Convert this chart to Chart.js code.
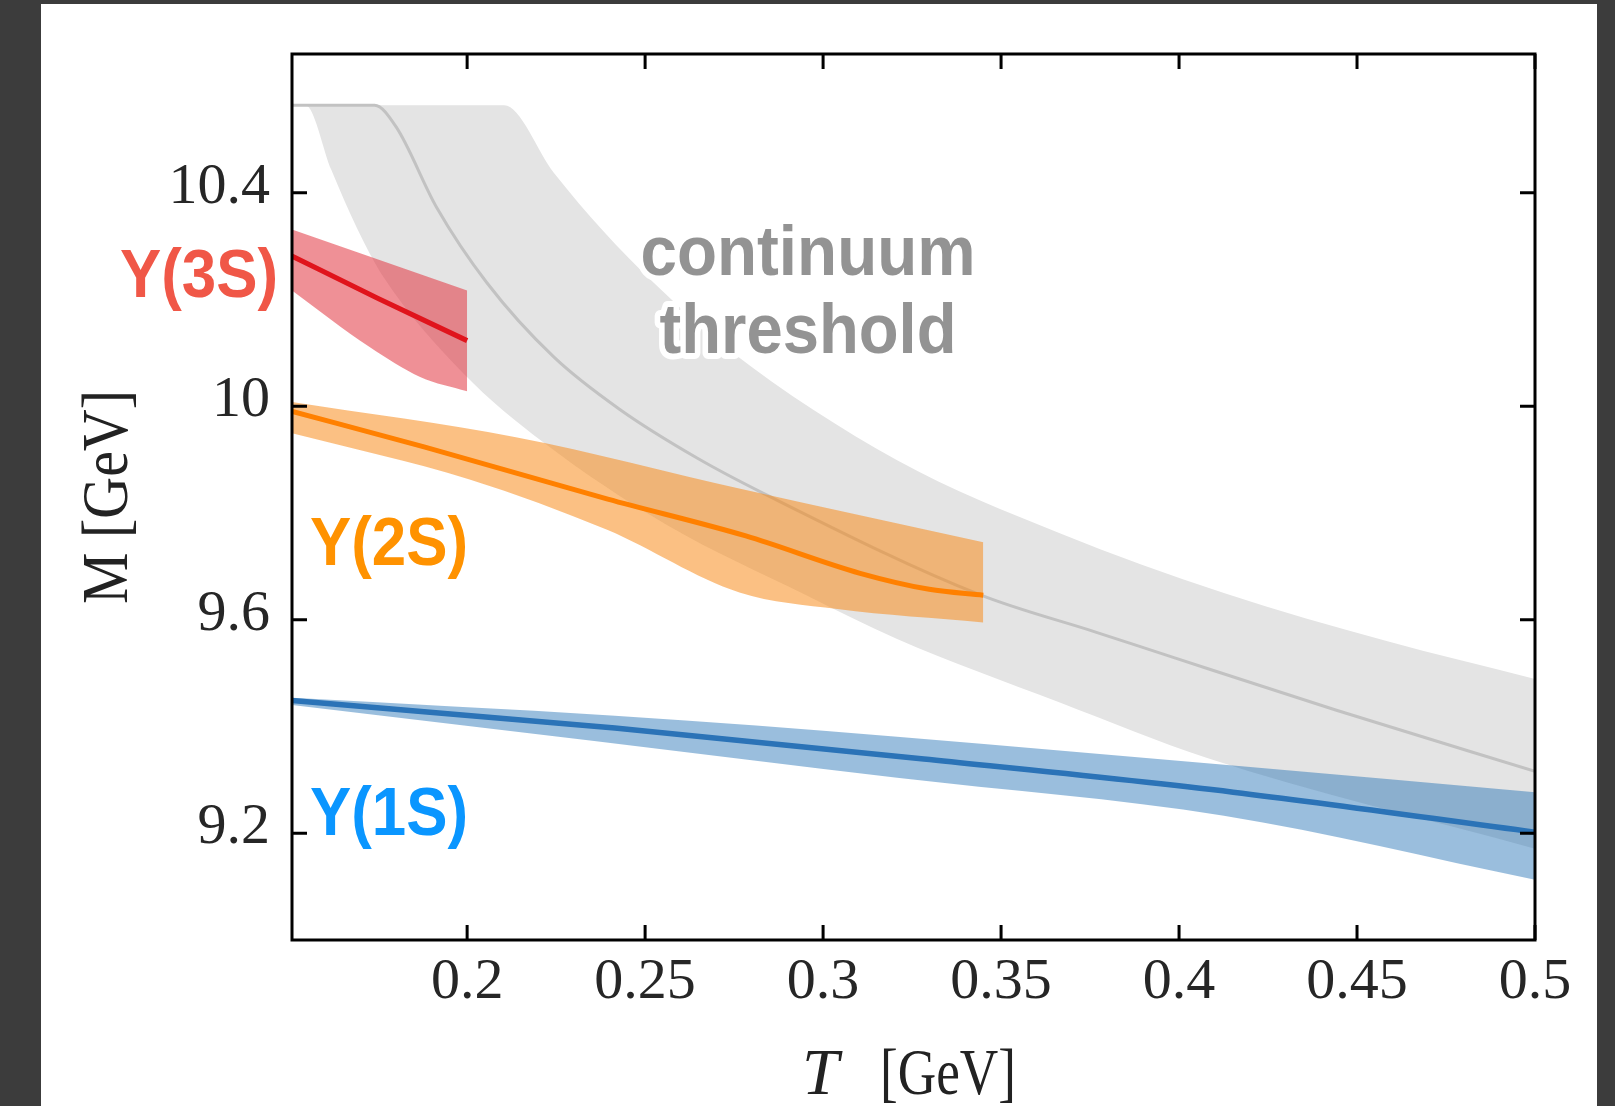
<!DOCTYPE html>
<html>
<head>
<meta charset="utf-8">
<title>Upsilon masses vs temperature</title>
<script src="https://cdn.jsdelivr.net/npm/chart.js@4.4.1/dist/chart.umd.min.js"></script>
<style>
    html, body { margin: 0; padding: 0; }
    body { width: 1615px; height: 1106px; background: #3c3c3c; overflow: hidden; position: relative; }
    #panel { position: absolute; left: 41px; top: 4px; width: 1556px; height: 1102px; background: #fff; }
    #wrap { position: absolute; left: 0; top: 0; width: 1615px; height: 1106px; }
</style>
</head>
<body>
<div id="panel"></div>
<div id="wrap"><canvas id="massChart" width="1615" height="1106"></canvas></div>
<script>
// Axis ticks
const xTicks = [0.2, 0.25, 0.3, 0.35, 0.4, 0.45, 0.5];
const xTickLabels = ['0.2', '0.25', '0.3', '0.35', '0.4', '0.45', '0.5'];
const yTicks = [9.2, 9.6, 10.0, 10.4];
const yTickLabels = ['9.2', '9.6', '10', '10.4'];

// Continuum threshold band (T in GeV, M in GeV)
const contUpperT = [0.15, 0.2104, 0.2244, 0.2383, 0.2525, 0.2739, 0.3208, 0.3665, 0.4126, 0.4583, 0.5];
const contUpperM = [10.564, 10.564, 10.437, 10.328, 10.231, 10.104, 9.899, 9.762, 9.650, 9.560, 9.489];
const contLowerT = [0.15, 0.1546, 0.1619, 0.1691, 0.1763, 0.1989, 0.2215, 0.2560, 0.2950, 0.3208, 0.3665, 0.4079, 0.5];
const contLowerM = [10.564, 10.564, 10.442, 10.333, 10.244, 10.062, 9.932, 9.778, 9.647, 9.564, 9.445, 9.341, 9.171];
const contMidT = [0.15, 0.174, 0.1801, 0.1914, 0.2056, 0.2244, 0.2429, 0.2646, 0.2835, 0.344, 0.377, 0.399, 0.444, 0.5];
const contMidM = [10.564, 10.564, 10.523, 10.373, 10.231, 10.092, 9.994, 9.903, 9.836, 9.647, 9.576, 9.528, 9.431, 9.316];

// Upsilon(3S)
const ups3MidT = [0.15, 0.175, 0.2];
const ups3MidM = [10.284, 10.202, 10.123];
const ups3UpperT = [0.15, 0.175, 0.2];
const ups3UpperM = [10.333, 10.275, 10.217];
const ups3LowerT = [0.15, 0.1726, 0.1868, 0.2];
const ups3LowerM = [10.221, 10.111, 10.055, 10.028];

// Upsilon(2S)
const ups2MidT = [0.15, 0.1879, 0.2395, 0.2783, 0.3104, 0.3298, 0.345];
const ups2MidM = [9.992, 9.924, 9.826, 9.757, 9.687, 9.657, 9.646];
const ups2UpperT = [0.15, 0.2137, 0.2783, 0.345];
const ups2UpperM = [10.009, 9.942, 9.843, 9.745];
const ups2LowerT = [0.15, 0.2007, 0.2395, 0.2765, 0.304, 0.345];
const ups2LowerM = [9.951, 9.863, 9.768, 9.651, 9.620, 9.595];

// Upsilon(1S)
const ups1MidT = [0.15, 0.2415, 0.3283, 0.4152, 0.5];
const ups1MidM = [9.449, 9.397, 9.339, 9.277, 9.202];
const ups1UpperT = [0.15, 0.2415, 0.3208, 0.4184, 0.5];
const ups1UpperM = [9.454, 9.420, 9.381, 9.325, 9.277];
const ups1LowerT = [0.15, 0.2357, 0.3208, 0.4126, 0.5];
const ups1LowerM = [9.441, 9.373, 9.304, 9.233, 9.113];

const pts = (ts, ms) => ts.map((t, i) => ({ x: t, y: ms[i] }));

function curve(label, ts, ms, order, extra) {
    return Object.assign({
        label: label,
        data: pts(ts, ms),
        order: order,
        borderWidth: 0,
        pointRadius: 0,
        cubicInterpolationMode: 'monotone',
        fill: false
    }, extra || {});
}

const serif = "'Liberation Serif', 'DejaVu Serif', serif";
const sans = "'Liberation Sans', Arial, sans-serif";

// frame, inward ticks and all annotation text
const decorations = {
    id: 'decorations',
    afterDraw(chart) {
        const ctx = chart.ctx;
        const area = chart.chartArea;
        const xs = chart.scales.x;
        const ys = chart.scales.y;
        const tick = 15;

        ctx.save();
        ctx.strokeStyle = '#000';
        ctx.lineWidth = 3;
        ctx.strokeRect(area.left, area.top, area.right - area.left, area.bottom - area.top);

        ctx.beginPath();
        xTicks.forEach(v => {
            const px = xs.getPixelForValue(v);
            ctx.moveTo(px, area.bottom); ctx.lineTo(px, area.bottom - tick);
            ctx.moveTo(px, area.top); ctx.lineTo(px, area.top + tick);
        });
        yTicks.forEach(v => {
            const py = ys.getPixelForValue(v);
            ctx.moveTo(area.left, py); ctx.lineTo(area.left + tick, py);
            ctx.moveTo(area.right, py); ctx.lineTo(area.right - tick, py);
        });
        ctx.stroke();

        // state labels
        ctx.font = "bold 68px " + sans;
        ctx.textBaseline = 'alphabetic';
        ctx.textAlign = 'right';
        ctx.fillStyle = '#f05747';
        ctx.fillText('\u03A5(3S)', area.left - 14, 297, 158);
        ctx.textAlign = 'left';
        ctx.fillStyle = '#ff9200';
        ctx.fillText('\u03A5(2S)', area.left + 18, 565, 158);
        ctx.fillStyle = '#0a96ff';
        ctx.fillText('\u03A5(1S)', area.left + 18, 835, 158);

        // continuum threshold label with a light white halo
        ctx.font = "bold 70px " + sans;
        ctx.textAlign = 'center';
        ctx.lineJoin = 'round';
        ctx.lineWidth = 12;
        ctx.strokeStyle = '#fff';
        ctx.strokeText('continuum', 808, 275, 335);
        ctx.strokeText('threshold', 808, 353, 297);
        ctx.fillStyle = '#939393';
        ctx.fillText('continuum', 808, 275, 335);
        ctx.fillText('threshold', 808, 353, 297);

        // axis titles
        ctx.fillStyle = '#222';
        ctx.font = "66px " + serif;
        ctx.save();
        ctx.translate(127, (area.top + area.bottom) / 2);
        ctx.rotate(-Math.PI / 2);
        ctx.textAlign = 'center';
        ctx.fillText('M [GeV]', 0, 0, 214);
        ctx.restore();

        ctx.textAlign = 'left';
        ctx.font = "italic 66px " + serif;
        ctx.fillText('T', 802, 1094);
        ctx.font = "66px " + serif;
        ctx.fillText('[GeV]', 880, 1094, 136);
        ctx.restore();
    }
};

const ctx = document.getElementById('massChart').getContext('2d');
const chart = new Chart(ctx, {
    type: 'line',
    data: {
        datasets: [
            curve('continuum upper', contUpperT, contUpperM, 10, { fill: '+1', backgroundColor: '#e4e4e4' }),
            curve('continuum lower', contLowerT, contLowerM, 10),
            curve('continuum threshold', contMidT, contMidM, 9, { borderColor: '#c2c2c2', borderWidth: 3 }),
            curve('3S upper', ups3UpperT, ups3UpperM, 8, { fill: '+1', backgroundColor: 'rgba(226, 52, 64, 0.55)' }),
            curve('3S lower', ups3LowerT, ups3LowerM, 8),
            curve('Y(3S)', ups3MidT, ups3MidM, 7, { borderColor: '#e0141c', borderWidth: 5 }),
            curve('2S upper', ups2UpperT, ups2UpperM, 6, { fill: '+1', backgroundColor: 'rgba(248, 140, 30, 0.55)' }),
            curve('2S lower', ups2LowerT, ups2LowerM, 6),
            curve('Y(2S)', ups2MidT, ups2MidM, 5, { borderColor: '#ff8000', borderWidth: 5 }),
            curve('1S upper', ups1UpperT, ups1UpperM, 4, { fill: '+1', backgroundColor: 'rgba(32, 110, 180, 0.45)' }),
            curve('1S lower', ups1LowerT, ups1LowerM, 4),
            curve('Y(1S)', ups1MidT, ups1MidM, 3, { borderColor: '#2b73b7', borderWidth: 5.5 })
        ]
    },
    options: {
        responsive: false,
        animation: false,
        events: [],
        layout: { padding: { left: 0, top: 54, right: 80, bottom: 0 } },
        plugins: {
            legend: { display: false },
            tooltip: { enabled: false }
        },
        scales: {
            x: {
                type: 'linear',
                min: 0.1508,
                max: 0.5,
                afterBuildTicks: s => { s.ticks = xTicks.map(v => ({ value: v })); },
                afterFit: s => { s.height = 166; },
                grid: { display: false, drawTicks: false },
                border: { display: false },
                ticks: {
                    autoSkip: false,
                    maxRotation: 0,
                    padding: 14,
                    color: '#262626',
                    font: { family: serif, size: 58, lineHeight: 1 },
                    callback: (v, i) => xTickLabels[i]
                }
            },
            y: {
                type: 'linear',
                min: 9.0,
                max: 10.66,
                afterBuildTicks: s => { s.ticks = yTicks.map(v => ({ value: v })); },
                afterFit: s => { s.width = 292; },
                grid: { display: false, drawTicks: false },
                border: { display: false },
                ticks: {
                    autoSkip: false,
                    padding: 22,
                    labelOffset: -5,
                    color: '#262626',
                    font: { family: serif, size: 58, lineHeight: 1 },
                    callback: (v, i) => yTickLabels[i]
                }
            }
        }
    },
    plugins: [decorations]
});
</script>
</body>
</html>
